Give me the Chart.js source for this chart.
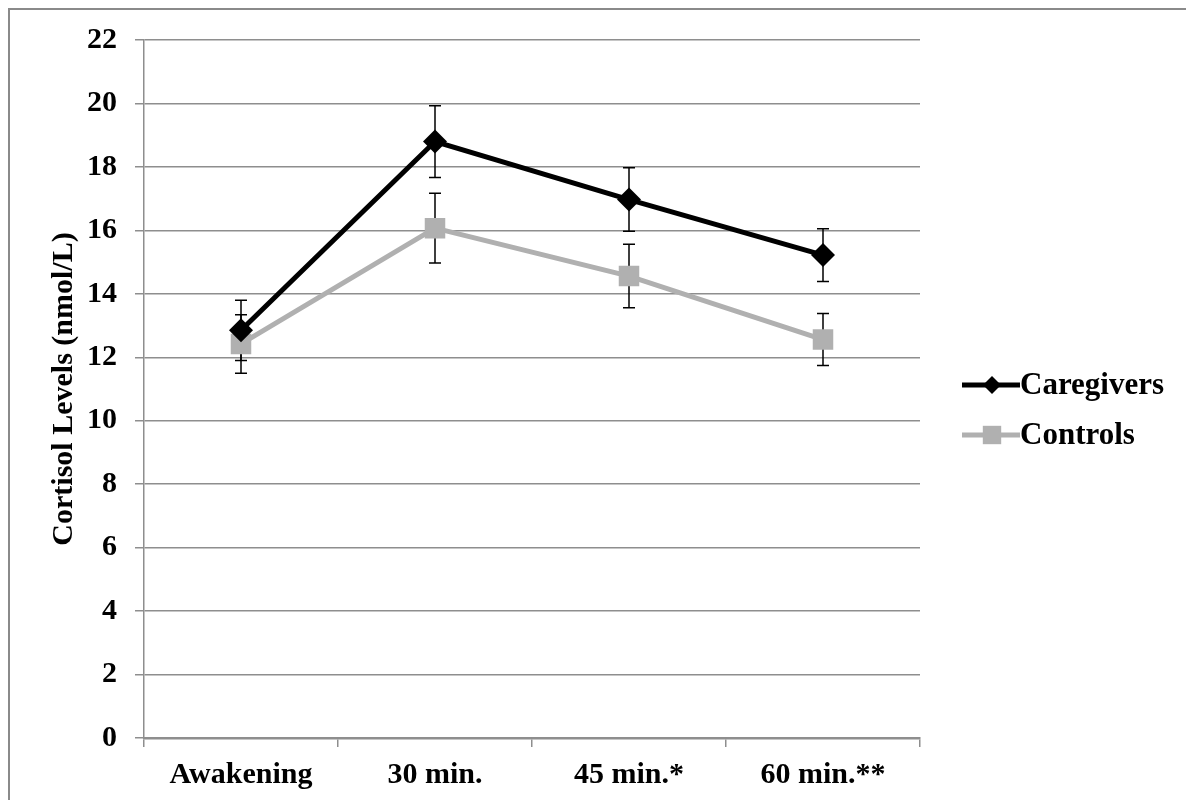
<!DOCTYPE html>
<html lang="en">
<head>
    <meta charset="UTF-8">
    <title>Cortisol Levels</title>
    <script src="https://cdn.jsdelivr.net/npm/chart.js@4.4.1/dist/chart.umd.min.js"></script>
    <style>
        body { margin: 0; padding: 0; background: #fff; }
        .wrap { width: 1186px; height: 800px; position: relative; }
    </style>
</head>
<body>
    <div class="wrap"><canvas id="chart" width="1186" height="800"></canvas></div>

    <script>
        // data
        const timepoints = ['Awakening', '30 min.', '45 min.*', '60 min.**'];
        const caregivers = [12.85, 18.8, 16.97, 15.22];
        const caregiversErr = [0.95, 1.13, 1.0, 0.83];
        const controls = [12.42, 16.07, 14.56, 12.56];
        const controlsErr = [0.92, 1.1, 1.0, 0.82];
        const yTicks = [0, 2, 4, 6, 8, 10, 12, 14, 16, 18, 20, 22];

        const serif = "'Liberation Serif', 'Times New Roman', serif";
        const gridGray = '#8e8e8e';

        // outer frame (only left and top edges are visible)
        const framePlugin = {
            id: 'frame',
            beforeDraw(chart) {
                const ctx = chart.ctx;
                ctx.save();
                ctx.fillStyle = '#fff';
                ctx.fillRect(0, 0, chart.width, chart.height);
                ctx.strokeStyle = '#8a8a8a';
                ctx.lineWidth = 2;
                ctx.strokeRect(9, 9, chart.width + 50, chart.height + 50);
                ctx.restore();
            }
        };

        // vertical error bars with caps, drawn under the markers
        const errorBarPlugin = {
            id: 'errorBars',
            beforeDatasetsDraw(chart) {
                const ctx = chart.ctx;
                const x = chart.scales.x, y = chart.scales.y;
                ctx.save();
                ctx.strokeStyle = '#000';
                ctx.lineWidth = 1.5;
                chart.data.datasets.forEach(ds => {
                    ds.data.forEach((v, i) => {
                        const px = x.getPixelForValue(i);
                        const top = y.getPixelForValue(v + ds.err[i]);
                        const bot = y.getPixelForValue(v - ds.err[i]);
                        ctx.beginPath();
                        ctx.moveTo(px, top); ctx.lineTo(px, bot);
                        ctx.moveTo(px - 6, top); ctx.lineTo(px + 6, top);
                        ctx.moveTo(px - 6, bot); ctx.lineTo(px + 6, bot);
                        ctx.stroke();
                    });
                });
                ctx.restore();
            }
        };

        // legend on the right: line + marker + label
        const legendPlugin = {
            id: 'sideLegend',
            afterDraw(chart) {
                const ctx = chart.ctx;
                const x0 = chart.chartArea.right + 42;
                let yy = 385;
                ctx.save();
                chart.data.datasets.forEach(ds => {
                    ctx.strokeStyle = ds.borderColor;
                    ctx.lineWidth = ds.borderWidth;
                    ctx.beginPath();
                    ctx.moveTo(x0, yy); ctx.lineTo(x0 + 58, yy);
                    ctx.stroke();
                    ctx.fillStyle = ds.pointBackgroundColor;
                    Chart.helpers.drawPoint(ctx, {
                        pointStyle: ds.pointStyle,
                        radius: ds.legendRadius,
                        borderWidth: 0
                    }, x0 + 30, yy);
                    ctx.fillStyle = '#000';
                    ctx.font = 'bold 31px ' + serif;
                    ctx.textBaseline = 'middle';
                    ctx.fillText(ds.label, x0 + 58, yy + 1);
                    yy += 50;
                });
                ctx.restore();
            }
        };

        new Chart(document.getElementById('chart'), {
            type: 'line',
            data: {
                labels: timepoints,
                datasets: [
                    {
                        label: 'Caregivers',
                        data: caregivers,
                        err: caregiversErr,
                        borderColor: '#000',
                        borderWidth: 5,
                        pointStyle: 'rectRot',
                        pointRadius: 12,
                        legendRadius: 9,
                        pointBackgroundColor: '#000',
                        pointBorderColor: '#000',
                        pointBorderWidth: 0,
                        tension: 0
                    },
                    {
                        label: 'Controls',
                        data: controls,
                        err: controlsErr,
                        borderColor: '#b0b0b0',
                        borderWidth: 5,
                        pointStyle: 'rect',
                        pointRadius: 14.5,
                        legendRadius: 13,
                        pointBackgroundColor: '#b0b0b0',
                        pointBorderColor: '#b0b0b0',
                        pointBorderWidth: 0,
                        tension: 0
                    }
                ]
            },
            options: {
                responsive: false,
                animation: false,
                layout: { padding: { left: 0, top: 40, right: 266, bottom: 0 } },
                plugins: {
                    legend: { display: false },
                    tooltip: { enabled: false }
                },
                scales: {
                    x: {
                        offset: true,
                        afterFit(s) { s.height = 62; },
                        grid: {
                            offset: true,
                            drawOnChartArea: false,
                            drawTicks: true,
                            tickLength: 9,
                            color: gridGray,
                            lineWidth: 1.5
                        },
                        border: { color: gridGray, width: 2.5 },
                        ticks: {
                            color: '#000',
                            padding: 10,
                            maxRotation: 0,
                            font: { family: serif, size: 30, weight: 'bold' }
                        }
                    },
                    y: {
                        min: 0,
                        max: 22,
                        afterFit(s) { s.width = 144; },
                        afterBuildTicks(s) { s.ticks = yTicks.map(v => ({ value: v })); },
                        grid: {
                            color: gridGray,
                            lineWidth: 1.5,
                            tickLength: 9
                        },
                        border: { color: gridGray, width: 1.5 },
                        ticks: {
                            color: '#000',
                            padding: 18,
                            font: { family: serif, size: 30, weight: 'bold' }
                        },
                        title: {
                            display: true,
                            text: 'Cortisol Levels (nmol/L)',
                            color: '#000',
                            padding: { top: 46, bottom: 0 },
                            font: { family: serif, size: 30, weight: 'bold' }
                        }
                    }
                }
            },
            plugins: [framePlugin, errorBarPlugin, legendPlugin]
        });
    </script>
</body>
</html>
